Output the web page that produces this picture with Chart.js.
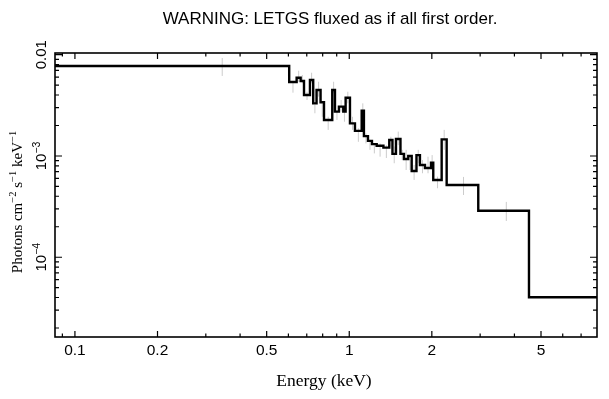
<!DOCTYPE html>
<html>
<head>
<meta charset="utf-8">
<script src="https://cdn.jsdelivr.net/npm/chart.js@4.4.1/dist/chart.umd.min.js"></script>
<style>
  html, body { margin: 0; padding: 0; background: #fff; }
  canvas { display: block; }
</style>
</head>
<body>
<canvas id="spec" width="609" height="399"></canvas>
<script>
// =======================
// Data
// =======================

const titleText = "WARNING: LETGS fluxed as if all first order.";

// bin edges in keV (one more than the number of bins)
const binEdges = [0.0846, 0.604, 0.643, 0.665, 0.684, 0.719, 0.739, 0.760, 0.786, 0.809,
  0.867, 0.887, 0.917, 0.951, 0.970, 1.006, 1.049, 1.110, 1.131, 1.170,
  1.210, 1.259, 1.332, 1.399, 1.437, 1.480, 1.537, 1.583, 1.641, 1.689,
  1.758, 1.810, 1.888, 1.986, 2.024, 2.172, 2.265, 2.953, 4.520, 8.00];

// flux per bin, photons cm^-2 s^-1 keV^-1
const flux = [7.73e-3, 5.37e-3, 5.93e-3, 5.50e-3, 4.00e-3, 5.63e-3, 3.31e-3, 4.48e-3, 3.39e-3, 2.27e-3,
  4.48e-3, 2.74e-3, 3.07e-3, 2.74e-3, 3.76e-3, 2.10e-3, 1.77e-3, 2.80e-3, 1.57e-3, 1.41e-3,
  1.31e-3, 1.26e-3, 1.21e-3, 1.44e-3, 1.05e-3, 1.47e-3, 1.05e-3, 9.33e-4, 1.00e-3, 7.11e-4,
  1.02e-3, 8.15e-4, 7.61e-4, 8.59e-4, 5.80e-4, 1.46e-3, 5.17e-4, 2.88e-4, 4.03e-5];

// grey error bars (low / high end) per bin
const errLo = [6.17e-3, 4.22e-3, 5.41e-3, 5.22e-3, 3.57e-3, 5.22e-3, 2.64e-3, 3.85e-3, 2.44e-3, 1.81e-3,
  4.16e-3, 2.27e-3, 2.74e-3, 2.18e-3, 3.31e-3, 1.81e-3, 1.38e-3, 2.44e-3, 1.33e-3, 1.15e-3,
  1.06e-3, 9.84e-4, 9.55e-4, 1.24e-3, 8.47e-4, 1.28e-3, 9.13e-4, 7.27e-4, 7.27e-4, 5.80e-4,
  8.47e-4, 6.75e-4, 6.75e-4, 7.27e-4, 4.80e-4, 1.15e-3, 4.12e-4, 2.28e-4, null];
const errHi = [9.29e-3, 5.29e-3, 6.95e-3, 6.31e-3, 4.31e-3, 6.64e-3, 3.19e-3, 5.41e-3, 3.31e-3, 2.44e-3,
  5.41e-3, 2.84e-3, 3.57e-3, 2.74e-3, 4.31e-3, 2.44e-3, 1.88e-3, 3.31e-3, 1.67e-3, 1.44e-3,
  1.33e-3, 1.33e-3, 1.28e-3, 1.55e-3, 1.24e-3, 1.74e-3, 1.15e-3, 1.15e-3, 9.13e-4, 8.15e-4,
  1.15e-3, 9.13e-4, 9.84e-4, 1.02e-3, 6.25e-4, 1.81e-3, 6.21e-4, 3.52e-4, null];

// axis ranges
const xMin = 0.0846, xMax = 8.0;
const yMin = 1.63e-5, yMax = 0.0104;

// ticks
const xMajorTicks = [0.1, 0.2, 0.5, 1, 2, 5];
const xTickLabels = ["0.1", "0.2", "0.5", "1", "2", "5"];
const xMinorTicks = [0.09, 0.3, 0.4, 0.6, 0.7, 0.8, 0.9, 3, 4, 6, 7];
const yMajorTicks = [1e-4, 1e-3, 1e-2];
const yTickLabels = [[["10", 0], ["\u22124", 1]], [["10", 0], ["\u22123", 1]], [["0.01", 0]]];
const yMinorTicks = [2e-5, 3e-5, 4e-5, 5e-5, 6e-5, 7e-5, 8e-5, 9e-5,
  2e-4, 3e-4, 4e-4, 5e-4, 6e-4, 7e-4, 8e-4, 9e-4,
  2e-3, 3e-3, 4e-3, 5e-3, 6e-3, 7e-3, 8e-3, 9e-3];

const xTitle = "Energy (keV)";
const yTitle = [["Photons cm", 0], ["\u22122", 1], [" s", 0], ["\u22121", 1], [" keV", 0], ["\u22121", 1]];


// =======================
// Build datasets
// =======================

const histPoints = flux.map((f, i) => ({ x: binEdges[i], y: f }));
histPoints.push({ x: binEdges[binEdges.length - 1], y: flux[flux.length - 1] });

const errPoints = [];
flux.forEach((f, i) => {
  if (errLo[i] === null) return;
  const c = (binEdges[i] + binEdges[i + 1]) / 2;
  errPoints.push({ x: c, y: errLo[i] }, { x: c, y: errHi[i] }, { x: c, y: null });
});


// =======================
// Text helper (superscripts)
// =======================

function drawRich(ctx, parts, size, family, x, y, align) {
  const fontOf = p => (p[1] ? (size * 0.7).toFixed(1) : size) + "px " + family;
  let w = 0;
  parts.forEach(p => { ctx.font = fontOf(p); w += ctx.measureText(p[0]).width; });
  let cx = align === "center" ? x - w / 2 : x;
  ctx.textAlign = "left";
  ctx.textBaseline = "alphabetic";
  parts.forEach(p => {
    ctx.font = fontOf(p);
    ctx.fillText(p[0], cx, p[1] ? y - size * 0.4 : y);
    cx += ctx.measureText(p[0]).width;
  });
}


// =======================
// Frame, ticks and labels
// =======================

const SANS = "'Liberation Sans', Arial, sans-serif";
const SERIF = "'Liberation Serif', 'Times New Roman', serif";

const framePlugin = {
  id: "frame",
  afterDraw(chart) {
    const { ctx, chartArea: a, scales } = chart;
    const sx = scales.x, sy = scales.y;
    ctx.save();
    ctx.strokeStyle = "#000";
    ctx.fillStyle = "#000";

    // box
    ctx.lineWidth = 1.6;
    ctx.strokeRect(a.left, a.top, a.right - a.left, a.bottom - a.top);

    // inward ticks, all four sides
    ctx.lineWidth = 1.2;
    ctx.beginPath();
    const xt = (v, len) => {
      const px = sx.getPixelForValue(v);
      ctx.moveTo(px, a.bottom); ctx.lineTo(px, a.bottom - len);
      ctx.moveTo(px, a.top); ctx.lineTo(px, a.top + len);
    };
    const yt = (v, len) => {
      const py = sy.getPixelForValue(v);
      ctx.moveTo(a.left, py); ctx.lineTo(a.left + len, py);
      ctx.moveTo(a.right, py); ctx.lineTo(a.right - len, py);
    };
    xMajorTicks.forEach(v => xt(v, 6));
    xMinorTicks.forEach(v => xt(v, 3.5));
    yMajorTicks.forEach(v => yt(v, 7));
    yMinorTicks.forEach(v => yt(v, 4));
    ctx.stroke();

    // x tick labels
    ctx.font = "15.5px " + SANS;
    ctx.textAlign = "center";
    ctx.textBaseline = "alphabetic";
    xMajorTicks.forEach((v, i) => {
      ctx.fillText(xTickLabels[i], sx.getPixelForValue(v), a.bottom + 18);
    });

    // y tick labels, rotated
    yMajorTicks.forEach((v, i) => {
      ctx.save();
      ctx.translate(a.left - 9, sy.getPixelForValue(v));
      ctx.rotate(-Math.PI / 2);
      drawRich(ctx, yTickLabels[i], 15, SANS, 0, 0, "center");
      ctx.restore();
    });

    // axis titles
    ctx.font = "17.5px " + SERIF;
    ctx.textAlign = "center";
    ctx.fillText(xTitle, 324, 386);

    ctx.save();
    ctx.translate(22, 202);
    ctx.rotate(-Math.PI / 2);
    drawRich(ctx, yTitle, 15, SERIF, 0, 0, "center");
    ctx.restore();

    // title
    ctx.font = "17px " + SANS;
    ctx.textAlign = "center";
    ctx.fillText(titleText, 330, 24);

    ctx.restore();
  }
};


// =======================
// Chart
// =======================

new Chart(document.getElementById("spec").getContext("2d"), {
  type: "line",
  data: {
    datasets: [
      {
        label: "flux",
        data: histPoints,
        stepped: "before",
        borderColor: "#000",
        borderWidth: 2.4,
        borderJoinStyle: "miter",
        pointRadius: 0,
        fill: false,
        order: 0
      },
      {
        label: "errors",
        data: errPoints,
        borderColor: "#cccccc",
        borderWidth: 1,
        pointRadius: 0,
        spanGaps: false,
        fill: false,
        order: 1
      }
    ]
  },
  options: {
    responsive: false,
    animation: false,
    layout: { padding: { left: 55, top: 53, right: 12, bottom: 62 } },
    plugins: { legend: { display: false }, tooltip: { enabled: false } },
    scales: {
      x: { type: "logarithmic", min: xMin, max: xMax, display: false },
      y: { type: "logarithmic", min: yMin, max: yMax, display: false }
    }
  },
  plugins: [framePlugin]
});
</script>
</body>
</html>
